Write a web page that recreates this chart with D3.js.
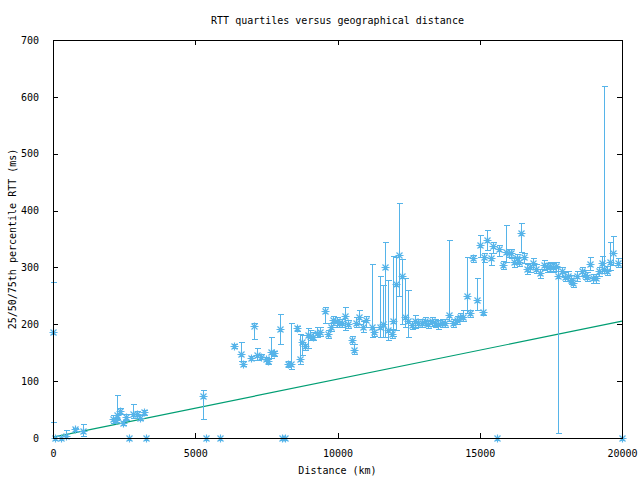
<!DOCTYPE html>
<html><head><meta charset="utf-8">
<script src="https://cdn.jsdelivr.net/npm/d3@7"></script>
<style>body{margin:0;background:#fff}svg{display:block}text{font-family:"DejaVu Sans Mono",monospace;font-size:10px;fill:#000}</style>
</head><body><svg id="c" width="640" height="480"></svg>
<script>
const distanceKm = [0,70,280,457,790,1065,2120,2215,2260,2355,2450,2565,2682,2823,2940,3058,3198,3268,5262,5378,5870,8050,8150,15606,20000,
6373,6597,6690,6960,7076,7181,7300,7476,7568,7663,7768,7990,8270,8366,8587,8693,8763,8858,8953,
9033,9150,9290,9385,9561,9677,9760,9854,9970,10063,10147,10263,10380,10520,10580,10650,10767,10885,11002,11202,11283,11494,11588,11681,11787,11904,11963,12057,12151,12280,12385,12490,
12608,12725,12841,12960,13076,13193,13310,13427,13544,13661,13778,13930,14070,14190,14306,14400,14540,14657,14774,14891,15008,15103,15150,15266,15385,15477,15688,15806,15922,16040,16090,16205,16300,16392,16462,16555,16672,16766,16883,16977,17118,17258,17353,17470,17564,17680,17762,17880,17997,18113,18196,18290,18407,18583,18700,18781,18875,18992,19086,19180,19286,19380,19484,19578,19672,19870];
const rttMedian = [186,0,0,3,15,13,33,32,40,48,26,37,0,42,43,36,46,0,74,0,0,0,0,0,0,
162,148,131,141,197,146,143,139,135,152,149,192,131,130,193,139,168,161,181,
179,178,185,187,224,183,196,207,205,202,203,215,200,172,155,203,213,196,207,196,187,196,200,300,190,183,206,270,322,285,212,206,
199,205,202,203,205,200,205,202,200,203,202,216,202,207,213,212,250,219,316,243,339,221,319,349,316,337,332,304,328,326,325,310,316,310,361,318,297,300,308,298,290,304,300,302,300,302,285,293,284,285,278,273,285,293,287,284,306,281,281,293,308,297,294,310,326,308];
const rttLow = [28,0,0,0,12,4,27,28,33,43,22,32,0,36,38,32,41,0,33,0,0,0,0,0,0,
158,135,127,137,175,137,139,135,131,140,145,165,124,121,188,130,146,155,158,
172,172,178,180,202,176,188,198,196,195,196,190,193,165,148,195,200,186,195,178,180,178,178,178,172,176,180,190,250,200,196,178,
192,193,195,196,198,193,197,195,192,196,195,205,195,200,205,205,220,212,310,225,318,216,310,330,305,325,320,298,310,318,316,300,308,302,328,308,288,292,298,290,282,295,292,294,292,294,8,285,276,277,270,265,277,285,279,276,295,273,273,285,290,290,286,295,305,300];
const rttHigh = [274,0,0,14,18,25,40,36,75,53,30,42,0,60,47,40,50,0,84,0,0,0,0,0,0,
166,169,135,145,203,159,147,143,139,178,153,218,136,202,197,183,181,166,193,
190,186,195,196,231,190,203,214,212,210,210,230,208,180,165,212,225,206,215,306,195,285,269,344,278,192,320,319,413,315,281,260,
206,216,209,210,212,208,213,209,207,210,210,348,209,214,220,226,318,226,322,282,357,318,325,365,325,345,340,312,375,333,333,318,324,318,379,326,306,308,316,306,298,313,308,310,308,310,300,301,292,293,286,281,293,301,295,292,318,289,289,301,320,619,302,345,355,316];
const boundKm = [0, 20000];
const boundMs = [1.5, 205.5];
const xTicks = [0, 5000, 10000, 15000, 20000];
const yTicks = [0, 100, 200, 300, 400, 500, 600, 700];

const svg = d3.select("#c");
const L = 53, R = 622, T = 40, B = 438;
const x = d3.scaleLinear().domain([0, 20000]).range([L, R]);
const y = d3.scaleLinear().domain([0, 700]).range([B, T]);
const blue = "#56b4e9", green = "#009e73";
const FONT = "DejaVu Sans Mono, monospace";

svg.append("rect").attr("width", 640).attr("height", 480).attr("fill", "#fff");

const ax = (g, gen) => { g.call(gen); g.select(".domain").remove(); g.selectAll("line").attr("stroke", "#000").attr("shape-rendering", "crispEdges"); g.selectAll("text").attr("font-family", FONT).attr("font-size", 10).attr("fill", "#000"); };
svg.append("g").attr("transform", `translate(0,${B})`).call(g => ax(g, d3.axisBottom(x).tickValues(xTicks).tickFormat(d3.format("d")).tickSizeInner(-5).tickSizeOuter(0).tickPadding(12)));
svg.append("g").attr("transform", `translate(0,${T})`).call(g => { ax(g, d3.axisTop(x).tickValues(xTicks).tickSizeInner(-5).tickSizeOuter(0)); g.selectAll("text").remove(); });
svg.append("g").attr("transform", `translate(${L},0)`).call(g => ax(g, d3.axisLeft(y).tickValues(yTicks).tickFormat(d3.format("d")).tickSizeInner(-5).tickSizeOuter(0).tickPadding(14)));
svg.append("g").attr("transform", `translate(${R},0)`).call(g => { ax(g, d3.axisRight(y).tickValues(yTicks).tickSizeInner(-5).tickSizeOuter(0)); g.selectAll("text").remove(); });

svg.append("path").datum(d3.zip(boundKm, boundMs))
  .attr("d", d3.line().x(d => x(d[0])).y(d => y(d[1])))
  .attr("fill", "none").attr("stroke", green).attr("stroke-width", 1.2);

const pts = distanceKm.map((d, i) => ({ d, m: rttMedian[i], lo: rttLow[i], hi: rttHigh[i] }));
const g = svg.append("g").attr("stroke", blue).attr("stroke-width", 1).attr("fill", "none").attr("shape-rendering", "crispEdges");
pts.forEach(p => {
  const px = Math.round(x(p.d)) + 0.5;
  const ylo = Math.round(y(p.lo)) + 0.5, yhi = Math.round(y(p.hi)) + 0.5, ym = Math.round(y(p.m)) + 0.5;
  if (p.hi > p.lo) {
    g.append("line").attr("x1", px).attr("x2", px).attr("y1", ylo).attr("y2", yhi);
    g.append("line").attr("x1", px - 3).attr("x2", px + 3).attr("y1", ylo).attr("y2", ylo);
    g.append("line").attr("x1", px - 3).attr("x2", px + 3).attr("y1", yhi).attr("y2", yhi);
  }
  g.append("path").attr("d", `M${px - 4},${ym}H${px + 4}M${px},${ym - 4}V${ym + 4}M${px - 3},${ym - 3}L${px + 3},${ym + 3}M${px - 3},${ym + 3}L${px + 3},${ym - 3}`)
    .attr("shape-rendering", "auto").attr("stroke-width", 1.2);
});

svg.append("rect").attr("x", L + 0.5).attr("y", T + 0.5).attr("width", R - L).attr("height", B - T)
  .attr("fill", "none").attr("stroke", "#000").attr("shape-rendering", "crispEdges");

svg.append("text").attr("x", (L + R) / 2).attr("y", 24).attr("text-anchor", "middle").text("RTT quartiles versus geographical distance");
svg.append("text").attr("x", (L + R) / 2).attr("y", 474).attr("text-anchor", "middle").text("Distance (km)");
svg.append("text").attr("transform", `translate(16,${(T + B) / 2}) rotate(-90)`).attr("text-anchor", "middle").text("25/50/75th percentile RTT (ms)");
</script></body></html>
